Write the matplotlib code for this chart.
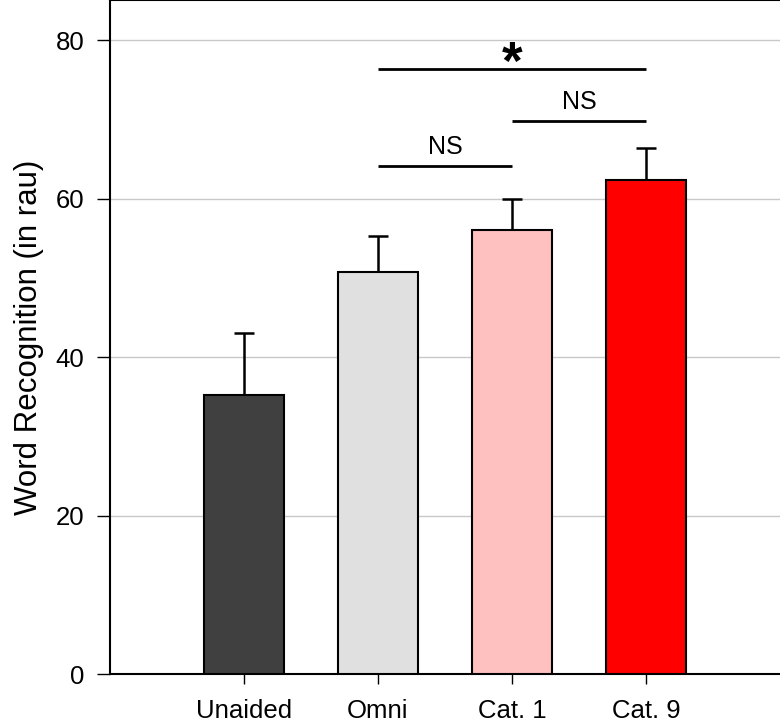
import matplotlib
matplotlib.use('Agg')
import matplotlib.pyplot as plt

plt.rcParams['font.family'] = ['Liberation Sans', 'DejaVu Sans']

# data
groups = ['Unaided', 'Omni', 'Cat. 1', 'Cat. 9']
means = [35.3, 50.8, 56.1, 62.4]
sems = [7.8, 4.5, 3.9, 4.0]
colors = ['#404040', '#e0e0e0', '#ffc0c0', '#ff0000']

# significance brackets: (from group, to group, height, label)
sig_pairs = [(1, 2, 64.1, 'NS'), (2, 3, 69.8, 'NS'), (1, 3, 76.4, '*')]

fig = plt.figure(figsize=(7.8, 7.21), dpi=100)
ax = fig.add_axes([0.141, 0.0645, 0.859, 0.9355])

x = list(range(1, len(groups) + 1))
ax.yaxis.grid(True, color='#c8c8c8', linewidth=1.0)
ax.set_axisbelow(True)
ax.bar(x, means, width=0.6, color=colors, edgecolor='black', linewidth=1.5, zorder=3)
ax.errorbar(x, means, yerr=[[0] * len(sems), sems], fmt='none', ecolor='black',
            elinewidth=1.8, capsize=7.5, capthick=1.8, zorder=2)

for a, b, h, lab in sig_pairs:
    xa, xb = x[a], x[b]
    ax.plot([xa, xb], [h, h], color='black', linewidth=2.0, solid_capstyle='butt')
    if lab == '*':
        # asterisk glyph sits high in the em box, so anchor on baseline below the line
        ax.text((xa + xb) / 2, h - 1.2, lab, ha='center', va='baseline', fontsize=38,
                fontweight='bold')
    else:
        ax.text((xa + xb) / 2, h + 0.9, lab, ha='center', va='bottom', fontsize=18)

ax.set_xlim(0, 5)
ax.set_ylim(0, 85.1)
ax.set_xticks(x)
ax.set_xticklabels(groups, fontsize=18.5)
ax.set_yticks([0, 20, 40, 60, 80])
ax.tick_params(axis='y', direction='out', length=9.5, width=1, labelsize=18.5, pad=9)
ax.tick_params(axis='x', direction='out', length=7.2, width=1, pad=10.5)
ax.spines['right'].set_visible(False)
for s in ['left', 'bottom', 'top']:
    ax.spines[s].set_linewidth(1.5)
ax.set_ylabel('Word Recognition (in rau)', fontsize=22.5, labelpad=8)

fig.savefig('out.png', dpi=100)
